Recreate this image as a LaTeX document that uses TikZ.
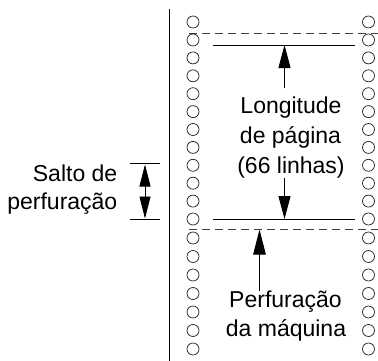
\documentclass[tikz,border=0pt]{standalone}
\usepackage{fontspec}
\setmainfont{Liberation Sans}
\usetikzlibrary{arrows.meta}
\begin{document}
\begin{tikzpicture}[x=1pt,y=-1pt,
  hole/.style={circle,draw=black!85,line width=0.75pt,minimum size=12pt,inner sep=0pt},
  lbl/.style={font=\fontsize{23}{28}\selectfont,inner sep=0pt,anchor=base},
  lblr/.style={lbl,anchor=base east},
  rule/.style={line width=0.9pt},
  perf/.style={line width=0.9pt,draw=black!75,dash pattern=on 8pt off 5pt},
  arr/.style={line width=0.9pt,-{Triangle[length=23pt,width=12pt]}},
  sarr/.style={line width=0.9pt,-{Triangle[length=22pt,width=11pt]}}]
\useasboundingbox (0,0) rectangle (378,360);
% margin line
\coordinate (vt) at (169.5,9);
\coordinate (vb) at (169.5,362);
\draw[line width=1.1pt] (vt) -- (vb);
% perforation (dashed) lines
\coordinate (d1a) at (189,33);  \coordinate (d1b) at (380,33);
\coordinate (d2a) at (189,229); \coordinate (d2b) at (380,229);
\draw[perf] (d1a) -- (d1b);
\draw[perf] (d2a) -- (d2b);
% holes
\foreach \y [count=\i] in {22,40,57.9,75.8,93.7,111.6,129.5,147.4,165.3,183.2,201.1,219,238,256.5,275,293.5,312,330.5,349}{
  \node[hole] (L\i) at (193,\y) {};
  \node[hole] (R\i) at (368.5,\y) {};
}
% page rules
\coordinate (t1a) at (213,45);  \coordinate (t1b) at (355,45);
\coordinate (t2a) at (213,219); \coordinate (t2b) at (355,219);
\draw[rule] (t1a) -- (t1b);
\draw[rule] (t2a) -- (t2b);
% page length labels
\node[lbl] (lon) at (291,113.3) {Longitude};
\node[lbl] (pag) at (290.5,143.5) {de página};
\node[lbl] (lin) at (291,173.3) {(66 linhas)};
\coordinate (a1s) at (284.5,88);  \coordinate (a1e) at (284.5,45);
\coordinate (a2s) at (284.5,178); \coordinate (a2e) at (284.5,219);
\draw[arr] (a1s) -- (a1e);
\draw[arr] (a2s) -- (a2e);
% machine perforation
\node[lbl] (perfm) at (285.5,307) {Perfuração};
\node[lbl] (maq) at (286,336) {da máquina};
\coordinate (a3s) at (259.5,291); \coordinate (a3e) at (259.5,229.5);
\draw[line width=0.9pt,-{Triangle[length=25pt,width=12.5pt]}] (a3s) -- (a3e);
% skip over perforation
\coordinate (b1a) at (130,163.3); \coordinate (b1b) at (160,163.3);
\coordinate (b2a) at (130,219.3); \coordinate (b2b) at (160,219.3);
\draw[rule] (b1a) -- (b1b);
\draw[rule] (b2a) -- (b2b);
\coordinate (bm) at (145,191.5);
\coordinate (bt) at (145,164.5);
\coordinate (bb) at (145,218.5);
\draw[sarr] (bm) -- (bt);
\draw[sarr] (bm) -- (bb);
\node[lblr] (salto) at (117.5,181.5) {Salto de};
\node[lblr] (perfu) at (117.5,209) {perfuração};
\end{tikzpicture}
\end{document}
